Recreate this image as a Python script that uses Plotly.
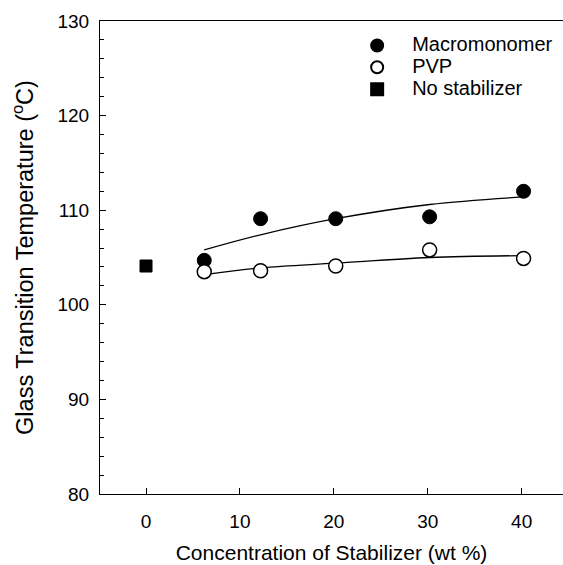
import plotly.graph_objects as go

# Data
macro_x = [6.2, 12.2, 20.2, 30.2, 40.2]
macro_y = [104.7, 109.1, 109.1, 109.3, 112.0]
pvp_x = [6.2, 12.2, 20.2, 30.2, 40.2]
pvp_y = [103.5, 103.6, 104.1, 105.8, 104.9]
nostab_x = [0]
nostab_y = [104.1]

# fitted trend curves
macro_fit_x = [6.2, 12.2, 20.2, 30.2, 40.2]
macro_fit_y = [105.8, 107.4, 109.1, 110.6, 111.4]
pvp_fit_x = [6.2, 12.2, 20.2, 30.2, 40.2]
pvp_fit_y = [103.2, 103.9, 104.4, 105.0, 105.2]

x_ticks = [0, 10, 20, 30, 40]
y_ticks = [80, 90, 100, 110, 120, 130]
series_names = ["Macromonomer", "PVP", "No stabilizer"]

FONT = "Liberation Sans, Arial, sans-serif"


def lbl(s):
    return "<span style='font-size:20px'>" + s + "</span>"


fig = go.Figure()
fig.add_trace(go.Scatter(x=macro_fit_x, y=macro_fit_y, mode="lines",
                         line=dict(color="black", width=1.3, shape="spline"),
                         showlegend=False, hoverinfo="skip"))
fig.add_trace(go.Scatter(x=pvp_fit_x, y=pvp_fit_y, mode="lines",
                         line=dict(color="black", width=1.3, shape="spline"),
                         showlegend=False, hoverinfo="skip"))
fig.add_trace(go.Scatter(x=macro_x, y=macro_y, mode="markers", name=lbl(series_names[0]),
                         marker=dict(symbol="circle", size=14, color="black",
                                     line=dict(color="black", width=1))))
fig.add_trace(go.Scatter(x=pvp_x, y=pvp_y, mode="markers", name=lbl(series_names[1]),
                         marker=dict(symbol="circle", size=14, color="white",
                                     line=dict(color="black", width=1.5))))
fig.add_trace(go.Scatter(x=nostab_x, y=nostab_y, mode="markers", name=lbl(series_names[2]),
                         marker=dict(symbol="square", size=12, color="black",
                                     line=dict(color="black", width=1))))

fig.update_layout(
    width=563, height=565,
    margin=dict(l=100, r=0, t=21, b=71),
    paper_bgcolor="white", plot_bgcolor="white",
    font=dict(family=FONT, size=19, color="black"),
    showlegend=True,
    legend=dict(x=0.523, y=0.982, xanchor="left", yanchor="top",
                bgcolor="rgba(0,0,0,0)", font=dict(size=14.5),
                itemwidth=60, itemsizing="constant", tracegroupgap=0),
    xaxis=dict(range=[-4.9, 44.4], tickvals=x_ticks,
               ticks="inside", ticklen=6, tickcolor="black",
               showline=True, linecolor="black", linewidth=1.2, mirror=True,
               showgrid=False, zeroline=False, ticklabelstandoff=10,
               title=dict(text="Concentration of Stabilizer (wt %)", standoff=14,
                          font=dict(size=21)),
               tickfont=dict(size=19)),
    yaxis=dict(range=[80, 130], tickvals=y_ticks,
               ticks="inside", ticklen=6, tickcolor="black",
               minor=dict(dtick=2, ticks="inside", ticklen=4, tickcolor="black"),
               showline=True, linecolor="black", linewidth=1.2,
               showgrid=False, zeroline=False, ticklabelstandoff=6,
               title=dict(text="Glass Transition Temperature (<sup>o</sup>C)", standoff=17,
                          font=dict(size=23.5)),
               tickfont=dict(size=19)),
)

fig.write_html("out.html", config={"displayModeBar": False},
               post_script="document.body.style.margin='0';document.body.style.overflow='hidden';")
